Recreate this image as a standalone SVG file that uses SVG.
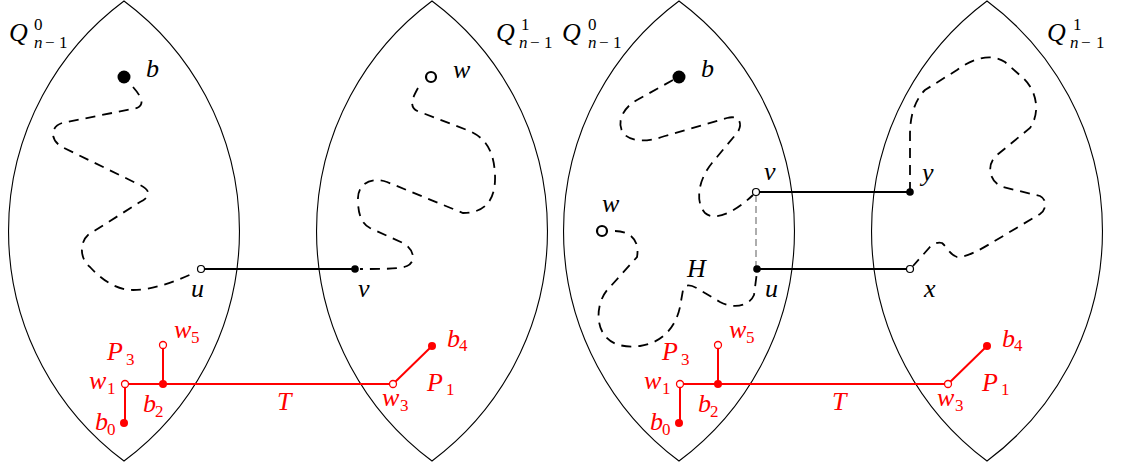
<svg xmlns="http://www.w3.org/2000/svg" width="1124" height="468" viewBox="0 0 1124 468">
<style>
.lens{fill:none;stroke:#000;stroke-width:1.1}
.dash{fill:none;stroke:#000;stroke-width:1.8;stroke-dasharray:10 7}
.edge{fill:none;stroke:#000;stroke-width:1.8}
.gdash{fill:none;stroke:#777;stroke-width:1.2;stroke-dasharray:7 4}
.red{fill:none;stroke:#f00;stroke-width:2}
.m{font-family:"Liberation Serif","Times New Roman",serif;font-style:italic;font-size:26px;fill:#000}
.s{font-family:"Liberation Serif","Times New Roman",serif;font-size:17px;fill:#000}
.si{font-family:"Liberation Serif","Times New Roman",serif;font-style:italic;font-size:17px;fill:#000}
.r{fill:#f00}
.bo{fill:#fff;stroke:#000;stroke-width:1.2}
.ro{fill:#fff;stroke:#f00;stroke-width:1.3}
</style>
<defs>
<path id="lensp" d="M0,1 A286.8,286.8 0 0 1 0,461 A286.8,286.8 0 0 1 0,1 Z"/>
<g id="tree">
<path class="red" d="M125,384 H393 M163,384 V345 M125,384 V423 M393,384 L432,346"/>
<circle class="ro" cx="125" cy="384" r="3.5"/>
<circle r="4" cx="163" cy="384" fill="#f00"/>
<circle class="ro" cx="163" cy="345" r="3.5"/>
<circle r="4" cx="124" cy="423" fill="#f00"/>
<circle class="ro" cx="393" cy="384" r="3.5"/>
<circle r="4" cx="432" cy="346" fill="#f00"/>
<text class="m r" x="89" y="389">w</text><text class="s r" x="107" y="394">1</text>
<text class="m r" x="107" y="360">P</text><text class="s r" x="126" y="365">3</text>
<text class="m r" x="174" y="338">w</text><text class="s r" x="191" y="343">5</text>
<text class="m r" x="143" y="412">b</text><text class="s r" x="155" y="417">2</text>
<text class="m r" x="95" y="430">b</text><text class="s r" x="107" y="435">0</text>
<text class="m r" x="277" y="410">T</text>
<text class="m r" x="382" y="406">w</text><text class="s r" x="400" y="411">3</text>
<text class="m r" x="447" y="347">b</text><text class="s r" x="459" y="351">4</text>
<text class="m r" x="427" y="391">P</text><text class="s r" x="446" y="395">1</text>
</g>
</defs>

<g id="lenses">
<use href="#lensp" class="lens" x="124"/>
<use href="#lensp" class="lens" x="432"/>
<use href="#lensp" class="lens" x="679"/>
<use href="#lensp" class="lens" x="987"/>
</g>

<g id="labels-Q">
<text class="m" x="9" y="41">Q</text><text class="s" x="34" y="30">0</text><text class="si" x="34" y="48">n</text><text class="s" x="45" y="48">−</text><text class="s" x="59" y="48">1</text>
<text class="m" x="496" y="41">Q</text><text class="s" x="521" y="30">1</text><text class="si" x="519" y="48">n</text><text class="s" x="530" y="48">−</text><text class="s" x="544" y="48">1</text>
<text class="m" x="562" y="41">Q</text><text class="s" x="588" y="30">0</text><text class="si" x="588" y="48">n</text><text class="s" x="599" y="48">−</text><text class="s" x="613" y="48">1</text>
<text class="m" x="1047" y="41">Q</text><text class="s" x="1073" y="30">1</text><text class="si" x="1070" y="48">n</text><text class="s" x="1081" y="48">−</text><text class="s" x="1096" y="48">1</text>
</g>

<g id="connectors">
<path class="dash" d="M133,87 C140,95 146,104 137,108 L62,123 C50,127 50,140 62,147 L140,185 C152,191 150,197 140,202 L88,235 C80,242 79,258 90,267 C100,278 115,290 133,290 C150,290 170,284 196,272"/>
<path class="dash" d="M418,88 C413,97 407,108 420,112 L467,130 C485,137 494,150 495,175 C496,200 485,213 463,213 L387,182 C370,176 357,185 358,200 C358,215 362,224 370,228 L403,243 C415,250 416,262 407,266 C400,269 385,269 360,269"/>
<path class="edge" d="M201,269 H355"/>
<path class="dash" d="M673,80 L637,100 C622,108 615,125 625,135 C633,142 648,142 665,136 L727,118 C742,114 742,127 737,133 L712,163 C698,180 695,202 705,213 C715,222 735,212 753,195"/>
<path class="dash" d="M615,231 C630,231 640,240 637,257 L610,287 C598,298 595,320 603,333 C610,345 625,348 640,346 C660,343 675,330 680,307 L683,290 C685,283 692,285 700,290 L720,302 C735,310 750,305 754,295 L757,272"/>
<path class="dash" d="M910,192 L910,135 C910,115 915,100 925,90 L957,70 C970,60 990,52 1005,62 L1022,77 C1035,88 1042,110 1030,128 L997,155 C985,165 990,183 1003,187 L1040,196 C1048,200 1046,210 1040,214 L993,242 C980,250 965,258 957,257 C950,255 947,247 942,243 C938,242 935,243 930,247 L913,266"/>
<path class="gdash" d="M756,195 V266"/>
<path class="edge" d="M756,192 H910 M757,269 H910"/>
</g>

<g id="node-b-left"><circle cx="124" cy="77" r="6.5" fill="#000"/><text class="m" x="146" y="77">b</text></g>
<g id="node-w-left"><circle cx="431" cy="77" r="5" fill="#fff" stroke="#000" stroke-width="2.2"/><text class="m" x="453" y="78">w</text></g>
<g id="node-u-left"><circle class="bo" cx="201" cy="269" r="3.5"/><text class="m" x="191" y="297">u</text></g>
<g id="node-v-left"><circle cx="355" cy="269" r="3.8" fill="#000"/><text class="m" x="358" y="297">v</text></g>

<g id="node-b-right"><circle cx="679" cy="77" r="6.5" fill="#000"/><text class="m" x="701" y="77">b</text></g>
<g id="node-w-right"><circle cx="602" cy="231" r="5" fill="#fff" stroke="#000" stroke-width="2.2"/><text class="m" x="602" y="212">w</text></g>
<g id="node-v-right"><circle class="bo" cx="756" cy="192" r="3.5"/><text class="m" x="764" y="180">v</text></g>
<g id="node-u-right"><circle cx="757" cy="269" r="3.8" fill="#000"/><text class="m" x="765" y="297">u</text></g>
<g id="node-y"><circle cx="910" cy="192" r="3.8" fill="#000"/><text class="m" x="922" y="181">y</text></g>
<g id="node-x"><circle class="bo" cx="910" cy="269" r="3.5"/><text class="m" x="924" y="297">x</text></g>
<g id="label-H"><text class="m" x="687" y="277">H</text></g>

<g id="tree-left"><use href="#tree"/></g>
<g id="tree-right"><use href="#tree" x="555"/></g>
</svg>
